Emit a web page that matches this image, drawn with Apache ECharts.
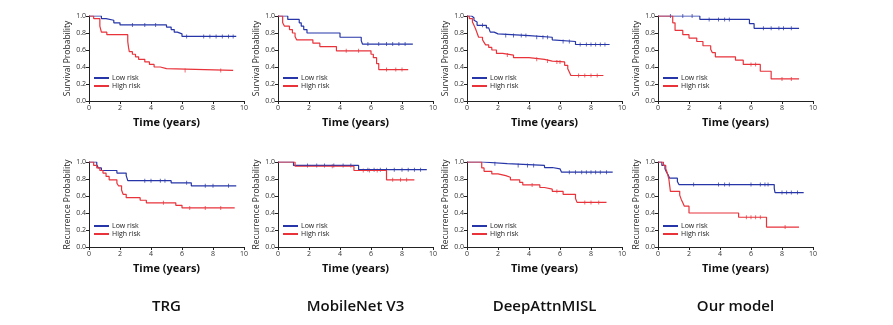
<!DOCTYPE html>
<html><head><meta charset="utf-8">
<script src="https://cdn.jsdelivr.net/npm/echarts@6/dist/echarts.min.js"></script>
<style>html,body{margin:0;padding:0;background:#fff}#c{width:893px;height:325px}</style>
</head><body><div id="c"></div>
<script>
// ---- Data: Kaplan-Meier steps [time, probability] and censor times ----
const trgSurvLow = [[0,1],[0.8,0.97],[1.1,0.95],[1.6,0.92],[2.0,0.895],[5.0,0.87],[5.3,0.84],[5.5,0.81],[5.7,0.79],[6.0,0.76],[9.5,0.76]];
const trgSurvLowCens = [2.8,3.6,4.3,6.3,7.4,7.8,8.2,8.6,9.0,9.3];
const trgSurvHigh = [[0,1],[0.3,0.97],[0.7,0.88],[0.8,0.81],[1.15,0.78],[2.5,0.70],[2.55,0.63],[2.6,0.58],[2.8,0.55],[3.0,0.52],[3.2,0.49],[3.6,0.46],[3.9,0.43],[4.2,0.40],[4.6,0.38],[5.0,0.36],[9.3,0.36]];
const trgSurvHighCens = [6.2,8.5];

const mobSurvLow = [[0,1],[0.63,0.96],[1.37,0.92],[1.5,0.88],[1.66,0.84],[1.87,0.80],[4.0,0.75],[5.37,0.71],[5.45,0.67],[8.7,0.67]];
const mobSurvLowCens = [5.8,6.5,7.0,7.4,7.8,8.2];
const mobSurvHigh = [[0,1],[0.3,0.92],[0.42,0.88],[0.74,0.84],[0.93,0.80],[1.1,0.76],[1.2,0.72],[2.25,0.68],[2.7,0.64],[3.77,0.59],[6.0,0.55],[6.15,0.51],[6.36,0.44],[6.5,0.37],[8.4,0.37]];
const mobSurvHighCens = [4.4,5.2,7.0,7.6,8.0];

const deepSurvLow = [[0,1],[0.3,0.98],[0.45,0.95],[0.55,0.93],[0.65,0.89],[1.25,0.86],[1.4,0.84],[1.5,0.81],[1.75,0.79],[2.0,0.77],[4.0,0.75],[5.5,0.72],[5.6,0.70],[7.0,0.665],[9.2,0.665]];
const deepSurvLowCens = [1.0,2.5,3.0,3.5,3.8,4.5,4.9,5.2,6.2,6.6,7.3,7.7,8.0,8.3,8.6,8.9];
const deepSurvHigh = [[0,1],[0.15,0.97],[0.35,0.93],[0.45,0.89],[0.55,0.85],[0.65,0.80],[0.75,0.75],[1.0,0.72],[1.1,0.69],[1.2,0.66],[1.4,0.63],[1.6,0.60],[1.9,0.56],[2.3,0.54],[3.0,0.51],[4.0,0.49],[5.0,0.47],[5.5,0.46],[6.3,0.42],[6.5,0.38],[6.6,0.34],[6.7,0.30],[8.8,0.30]];
const deepSurvHighCens = [2.6,4.5,5.2,5.8,6.0,7.2,7.6,8.0,8.4];

const oursSurvLow = [[0,1],[2.7,0.96],[5.9,0.91],[6.2,0.855],[9.1,0.855]];
const oursSurvLowCens = [0.8,1.6,2.2,3.3,3.9,4.3,4.6,6.8,7.3,7.8,8.1,8.6];
const oursSurvHigh = [[0,1],[0.95,0.92],[1.1,0.83],[1.6,0.78],[2.0,0.74],[2.5,0.70],[2.9,0.65],[3.4,0.61],[3.5,0.57],[3.7,0.52],[5.0,0.48],[5.5,0.43],[6.6,0.35],[7.3,0.26],[9.1,0.26]];
const oursSurvHighCens = [6.0,6.3,8.0,8.6];

const trgRecLow = [[0,1],[0.5,0.97],[0.6,0.93],[0.8,0.90],[1.8,0.87],[2.4,0.84],[2.5,0.78],[5.3,0.755],[6.6,0.72],[9.5,0.72]];
const trgRecLowCens = [3.6,4.0,4.6,4.9,6.3,7.5,8.0,9.0];
const trgRecHigh = [[0,1],[0.3,0.96],[0.5,0.93],[0.7,0.90],[0.9,0.87],[1.1,0.83],[1.3,0.79],[1.8,0.75],[1.9,0.72],[2.1,0.67],[2.2,0.62],[2.4,0.58],[3.3,0.55],[3.7,0.52],[5.6,0.49],[6.0,0.46],[9.4,0.46]];
const trgRecHighCens = [4.8,6.5,7.5,8.5];

const mobRecLow = [[0,1],[1.0,0.96],[5.2,0.91],[9.6,0.91]];
const mobRecLowCens = [1.9,2.5,3.0,3.6,4.2,4.7,5.8,6.2,6.6,7.0,7.5,8.0,8.4,8.8,9.2];
const mobRecHigh = [[0,1],[1.1,0.95],[4.9,0.90],[7.0,0.79],[8.8,0.79]];
const mobRecHighCens = [3.5,5.5,5.9,6.4,7.4,7.9,8.3];

const deepRecLow = [[0,1],[1.0,0.98],[2.6,0.96],[5.0,0.935],[5.5,0.92],[6.0,0.90],[6.1,0.88],[9.4,0.88]];
const deepRecLowCens = [1.8,3.3,3.9,4.3,6.6,7.0,7.4,7.7,8.0,8.3,8.6,9.0];
const deepRecHigh = [[0,1],[0.95,0.93],[1.1,0.89],[1.6,0.86],[2.0,0.84],[2.5,0.82],[2.8,0.79],[3.4,0.76],[3.6,0.73],[4.7,0.70],[5.0,0.68],[5.5,0.655],[6.2,0.62],[7.0,0.57],[7.1,0.525],[9.0,0.525]];
const deepRecHighCens = [4.2,5.8,7.6,8.0,8.5];

const oursRecLow = [[0,1],[0.25,0.96],[0.45,0.92],[0.55,0.88],[0.65,0.85],[0.75,0.81],[1.25,0.77],[1.35,0.735],[7.5,0.69],[7.55,0.64],[9.4,0.64]];
const oursRecLowCens = [2.3,3.9,4.3,4.6,6.0,6.6,6.9,7.1,8.0,8.3,8.6,9.0];
const oursRecHigh = [[0,1],[0.35,0.96],[0.5,0.92],[0.6,0.87],[0.7,0.80],[0.8,0.655],[1.4,0.61],[1.5,0.56],[1.6,0.52],[1.7,0.48],[2.0,0.40],[5.2,0.35],[7.0,0.235],[9.1,0.235]];
const oursRecHighCens = [5.7,6.0,6.3,6.6,8.2];

const modelNames = ['TRG','MobileNet V3','DeepAttnMISL','Our model'];
const rowNames = ['Survival Probability','Recurrence Probability'];
const xTicks = [0,2,4,6,8,10];
const groupNames = ['Low risk','High risk'];

const panels = [
  [trgSurvLow,trgSurvLowCens,trgSurvHigh,trgSurvHighCens],
  [mobSurvLow,mobSurvLowCens,mobSurvHigh,mobSurvHighCens],
  [deepSurvLow,deepSurvLowCens,deepSurvHigh,deepSurvHighCens],
  [oursSurvLow,oursSurvLowCens,oursSurvHigh,oursSurvHighCens],
  [trgRecLow,trgRecLowCens,trgRecHigh,trgRecHighCens],
  [mobRecLow,mobRecLowCens,mobRecHigh,mobRecHighCens],
  [deepRecLow,deepRecLowCens,deepRecHigh,deepRecHighCens],
  [oursRecLow,oursRecLowCens,oursRecHigh,oursRecHighCens]
];

// ---- Layout ----
const BLUE = '#2636a8', RED = '#e8333a';
const lefts = [89,278,467,658];
const tops = [16,162];
const legendOffsets = [58.5, 60.5];
const W = 155, H = 85;

function stepValue(curve, t){
  let v = curve[0][1];
  for (const p of curve){ if (p[0] <= t) v = p[1]; }
  return v;
}

const grid = [], xAxis = [], yAxis = [], series = [], legend = [], graphic = [];
panels.forEach((p, i) => {
  const col = i % 4, row = Math.floor(i / 4);
  grid.push({left: lefts[col], top: tops[row], width: W, height: H});
  xAxis.push({
    gridIndex: i, type: 'value', min: 0, max: 10, interval: 2,
    name: 'Time (years)', nameLocation: 'middle', nameGap: 16,
    nameTextStyle: {fontFamily: 'Open Sans', fontWeight: 'bold', fontSize: 11, color: '#111'},
    axisLine: {show: true, lineStyle: {color: '#222', width: 1}},
    axisTick: {show: true, length: 3, lineStyle: {color: '#222'}},
    axisLabel: {fontSize: 7, color: '#333', margin: 3, fontFamily: 'Open Sans'},
    splitLine: {show: false}
  });
  yAxis.push({
    gridIndex: i, type: 'value', min: 0, max: 1, interval: 0.2,
    name: rowNames[row], nameLocation: 'middle', nameGap: 16,
    nameTextStyle: {fontFamily: 'Open Sans', fontSize: 8.5, color: '#222'},
    axisLine: {show: true, lineStyle: {color: '#222', width: 1}},
    axisTick: {show: true, length: 3, lineStyle: {color: '#222'}},
    axisLabel: {fontSize: 7, color: '#333', margin: 3, fontFamily: 'Open Sans', formatter: v => v.toFixed(1)},
    splitLine: {show: false}
  });
  const curves = [[p[0], p[1], BLUE, groupNames[0]], [p[2], p[3], RED, groupNames[1]]];
  curves.forEach(([curve, cens, color, name]) => {
    series.push({
      type: 'line', name: name, xAxisIndex: i, yAxisIndex: i, step: 'end',
      data: curve, showSymbol: false, symbol: 'none', color: color,
      lineStyle: {color: color, width: 1.2}, silent: true, animation: false
    });
    series.push({
      type: 'scatter', name: name + ' censored', xAxisIndex: i, yAxisIndex: i,
      data: cens.map(t => [t, stepValue(curve, t)]),
      symbol: 'rect', symbolSize: [0.9, 4], itemStyle: {color: color}, silent: true, animation: false
    });
  });
  legend.push({
    orient: 'vertical', left: lefts[col] + 5, top: tops[row] + legendOffsets[row],
    data: groupNames, icon: 'rect', itemWidth: 15, itemHeight: 2, itemGap: 1,
    textStyle: {fontSize: 7, color: '#222', fontFamily: 'Open Sans', padding: [0,0,0,-2]},
    selectedMode: false, padding: 0
  });
});
modelNames.forEach((m, c) => {
  graphic.push({
    type: 'text', x: lefts[c] + W/2, y: 307,
    style: {text: m, fontFamily: 'Open Sans', fontWeight: 600, fontSize: 15, fill: '#111',
            textAlign: 'center', textVerticalAlign: 'middle'}
  });
});

const chart = echarts.init(document.getElementById('c'), null, {renderer: 'canvas'});
chart.setOption({animation: false, backgroundColor: '#fff', grid, xAxis, yAxis, series, legend, graphic});
</script></body></html>
